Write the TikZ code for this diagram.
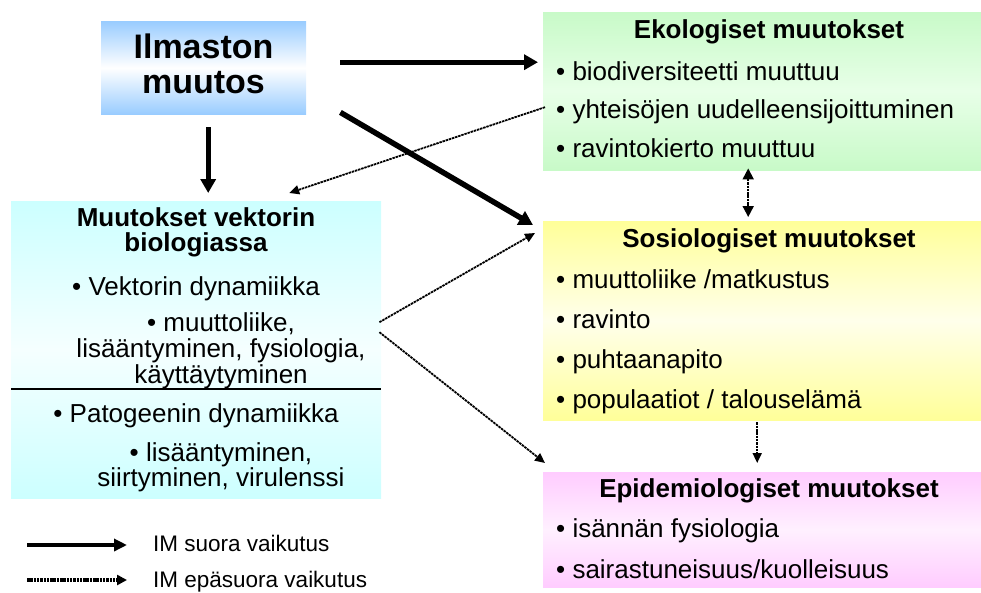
\documentclass[tikz,border=0pt]{standalone}
\usepackage{fontspec}
\setmainfont{Liberation Sans}
\usetikzlibrary{arrows.meta,calc}
\definecolor{blueC}{RGB}{153,204,255}
\definecolor{cyanC}{RGB}{204,255,255}
\definecolor{cyanM}{RGB}{245,255,255}
\definecolor{greenC}{RGB}{200,250,200}
\definecolor{greenM}{RGB}{232,255,232}
\definecolor{yellowC}{RGB}{255,255,153}
\definecolor{yellowM}{RGB}{255,255,235}
\definecolor{pinkC}{RGB}{255,204,255}
\definecolor{pinkM}{RGB}{255,240,255}
\begin{document}
\begin{tikzpicture}[x=1pt,y=-1pt,
  box/.style={rectangle, inner sep=0pt, anchor=north west},
  txt/.style={inner sep=0pt, anchor=base, font=\fontsize{26}{30}\selectfont},
  btxt/.style={inner sep=0pt, anchor=base, font=\fontsize{26}{30}\selectfont\bfseries},
  bul/.style={inner sep=0pt, anchor=base west, font=\fontsize{26}{30}\selectfont},
  ttl/.style={inner sep=0pt, anchor=base, font=\fontsize{34}{40}\selectfont\bfseries},
  leg/.style={inner sep=0pt, anchor=base west, font=\fontsize{22.5}{26}\selectfont},
  direct/.style={line width=5pt, -{Triangle[length=14pt,width=15pt]}},
  indirect/.style={line width=1.8pt, dash pattern=on 2.5pt off 0.8pt, -{Triangle[length=10pt,width=9pt]}},
  indirect2/.style={line width=1.8pt, dash pattern=on 2.5pt off 0.8pt, {Triangle[length=11pt,width=11pt]}-{Triangle[length=11pt,width=11pt]}},
  legdirect/.style={line width=4.5pt, -{Triangle[length=13pt,width=12pt]}},
  legindirect/.style={line width=3.5pt, dash pattern=on 2.5pt off 0.8pt, -{Triangle[length=10pt,width=10pt]}}
]
\useasboundingbox (0,0) rectangle (981,592);

% boxes
\node[box, minimum width=205pt, minimum height=93pt, top color=blueC, bottom color=blueC, middle color=white] (title) at (101,21) {};
\node[box, minimum width=370pt, minimum height=297pt, top color=cyanC, bottom color=cyanC, middle color=cyanM] (vec) at (11,201) {};
\node[box, minimum width=438pt, minimum height=158pt, top color=greenC, bottom color=greenC, middle color=greenM] (eco) at (543,12) {};
\node[box, minimum width=438pt, minimum height=199pt, top color=yellowC, bottom color=yellowC, middle color=yellowM] (sos) at (543,221) {};
\node[box, minimum width=438pt, minimum height=115pt, top color=pinkC, bottom color=pinkC, middle color=pinkM] (epi) at (543,472) {};

% title text
\node[ttl] (t1) at (203.5,58) {Ilmaston};
\node[ttl] (t2) at (203.5,93) {muutos};

% left box text
\node[btxt] (v1) at (196,226) {Muutokset vektorin};
\node[btxt] (v2) at (196,251) {biologiassa};
\node[txt] (v3) at (196,295) {• Vektorin dynamiikka};
\node[txt] (v4) at (221,331) {• muuttoliike,};
\node[txt] (v5) at (221,357) {lisääntyminen, fysiologia,};
\node[txt] (v6) at (221,383) {käyttäytyminen};
\node[txt] (v7) at (196,422) {• Patogeenin dynamiikka};
\node[txt] (v8) at (221,461) {• lisääntyminen,};
\node[txt] (v9) at (221,486) {siirtyminen, virulenssi};
\draw[line width=1.5pt] (11,389) -- (381,389);

% ecological
\node[btxt] (e0) at (769,38) {Ekologiset muutokset};
\node[bul] (e1) at (556,80) {• biodiversiteetti muuttuu};
\node[bul] (e2) at (556,118) {• yhteisöjen uudelleensijoittuminen};
\node[bul] (e3) at (556,157) {• ravintokierto muuttuu};

% sociological
\node[btxt] (s0) at (769,247) {Sosiologiset muutokset};
\node[bul] (s1) at (556,288) {• muuttoliike /matkustus};
\node[bul] (s2) at (556,328) {• ravinto};
\node[bul] (s3) at (556,368) {• puhtaanapito};
\node[bul] (s4) at (556,408) {• populaatiot / talouselämä};

% epidemiological
\node[btxt] (p0) at (769,497) {Epidemiologiset muutokset};
\node[bul] (p1) at (556,537) {• isännän fysiologia};
\node[bul] (p2) at (556,578) {• sairastuneisuus/kuolleisuus};

% direct arrows
\draw[direct] ([shift={(4.5,13)}]title.south) -- ([shift={(12,-8)}]vec.north);
\draw[direct] ([shift={(34,-5.5)}]title.east) -- ([shift={(-5,-29)}]eco.west);
\draw[direct, line width=5.5pt] ([shift={(34,-2)}]title.south east) -- ([shift={(-10,4)}]sos.north west);

% indirect arrows
\draw[indirect] ([shift={(2,16)}]eco.west) -- ([shift={(93,-8)}]vec.north);
\draw[indirect] ([shift={(-2,-27.5)}]vec.east) -- ([shift={(-8,12)}]sos.north west);
\draw[indirect] ([shift={(-2,-17.5)}]vec.east) -- ([shift={(2,-9)}]epi.north west);
\draw[indirect2] ([shift={(-14,-2)}]eco.south) -- ([shift={(-14,-4)}]sos.north);
\draw[indirect] ([shift={(-5,2)}]sos.south) -- ([shift={(-5,-9)}]epi.north);

% legend
\coordinate (la) at (27,545);
\coordinate (lb) at (127,545);
\coordinate (lc) at (27,580);
\coordinate (ld) at (127,580);
\draw[legdirect] (la) -- (lb);
\draw[legindirect] (lc) -- (ld);
\node[leg] (l1) at (153,551) {IM suora vaikutus};
\node[leg] (l2) at (153,587) {IM epäsuora vaikutus};
\end{tikzpicture}
\end{document}
